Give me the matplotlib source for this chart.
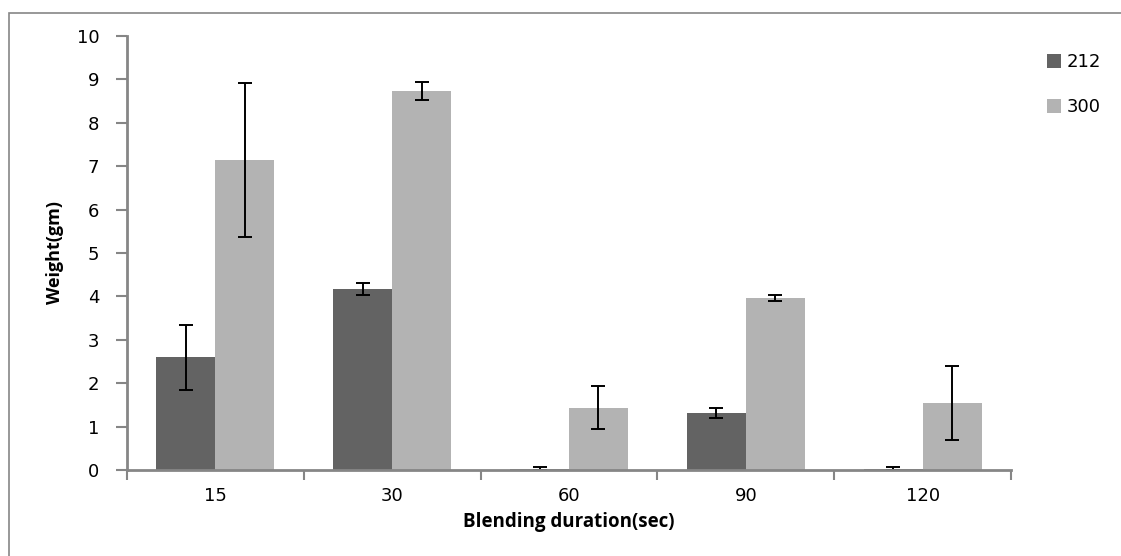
import numpy as np
import matplotlib.pyplot as plt
from matplotlib.patches import Rectangle

durations = ["15", "30", "60", "90", "120"]
series_names = ["212", "300"]
w212 = [2.6, 4.17, 0.03, 1.31, 0.03]
e212 = [0.75, 0.13, 0.03, 0.11, 0.03]
w300 = [7.15, 8.73, 1.44, 3.97, 1.55]
e300 = [1.77, 0.2, 0.5, 0.07, 0.85]

c212 = "#636363"
c300 = "#b3b3b3"
gray = "#868686"

fig = plt.figure(figsize=(11.21, 5.56), dpi=100)
ax = fig.add_axes([127/1121, 1 - 470/556, (1011 - 127)/1121, (470 - 36)/556])

# outer chart border (left/top visible only)
fig.patches.append(Rectangle((9/1121, -0.1), 1.2, 1 - 13/556 + 0.1,
                             transform=fig.transFigure, fill=False,
                             edgecolor=gray, lw=1.2))

x = np.arange(len(durations))
bw = 1/3
ax.bar(x - bw/2, w212, bw, color=c212, label=series_names[0])
ax.bar(x + bw/2, w300, bw, color=c300, label=series_names[1])
ax.errorbar(x - bw/2, w212, yerr=e212, fmt="none", ecolor="black",
            elinewidth=1.4, capsize=5, capthick=1.4)
ax.errorbar(x + bw/2, w300, yerr=e300, fmt="none", ecolor="black",
            elinewidth=1.4, capsize=5, capthick=1.4)

ax.set_xlim(-0.5, len(durations) - 0.5)
ax.set_ylim(0, 10)
ax.set_yticks(range(0, 11))
ax.set_xticks(np.arange(-0.5, len(durations), 1.0))
ax.set_xticklabels([])
ax.set_xticks(x, minor=True)
ax.set_xticklabels(durations, minor=True)
ax.tick_params(axis="x", which="minor", length=0, pad=12, labelsize=13)
ax.tick_params(axis="x", which="major", length=7, width=1.5, color=gray)
ax.tick_params(axis="y", length=8, width=1.5, color=gray, pad=12, labelsize=13)

for s in ["top", "right"]:
    ax.spines[s].set_visible(False)
for s in ["left", "bottom"]:
    ax.spines[s].set_color(gray)
    ax.spines[s].set_linewidth(2)

ax.set_xlabel("Blending duration(sec)", fontfamily="Open Sans",
              fontweight="bold", fontsize=13.5, labelpad=5)
ax.set_ylabel("Weight(gm)", fontfamily="Open Sans", fontweight="bold",
              fontsize=13, labelpad=9)

fig.legend(loc="upper left", bbox_to_anchor=(1038/1121, 1 - 44/556),
           frameon=False, fontsize=13, handlelength=0.8, handleheight=0.8,
           handletextpad=0.3, labelspacing=1.5, borderpad=0)

fig.savefig("out.png", dpi=100)
